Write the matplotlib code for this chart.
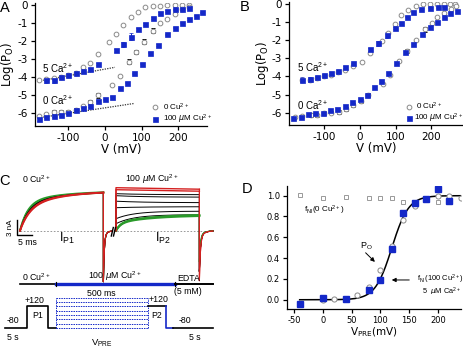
import numpy as np
import matplotlib
matplotlib.use("Agg")
import matplotlib.pyplot as plt

plt.rcParams['font.family'] = ['DejaVu Sans']
plt.rcParams['axes.unicode_minus'] = False
plt.rcParams['mathtext.default'] = 'regular'

BLUE = '#1428c8'
GRAY = '#8a8a8a'
SMALL = ['Liberation Sans', 'DejaVu Sans']

# ---------------- Panel A data (log Po vs V) ----------------
A_V_5CA_0CU = [-180, -160, -140, -120, -100, -80, -60, -40, -20, 10, 30, 50, 70, 90, 110, 130, 150, 170, 190, 210, 230]
A_L_5CA_0CU = [-4.16, -4.10, -4.05, -3.97, -3.90, -3.78, -3.45, -3.22, -2.71, -2.07, -1.63, -1.11, -0.65, -0.41, -0.13, -0.06, -0.03, -0.02, -0.01, 0.0, 0.0]
A_V_5CA_CU = [-160, -140, -120, -100, -80, -60, -40, -20, 30, 50, 70, 90, 110, 130, 150, 170, 190, 210, 230]
A_L_5CA_CU = [-4.18, -4.14, -3.97, -3.88, -3.79, -3.68, -3.56, -3.27, -2.50, -2.18, -1.75, -1.35, -1.05, -0.72, -0.43, -0.32, -0.24, -0.20, -0.17]
A_E_5CA_CU = [0.15, 0.18, 0.06, 0.06, 0.05, 0.05, 0.05, 0.06, 0.08, 0.12, 0.18, 0.07, 0.05, 0.05, 0.05, 0.04, 0.04, 0.04, 0.04]
A_V_0CA_0CU = [-180, -160, -140, -120, -100, -80, -60, -40, -20, 20, 40, 65, 85, 105, 130, 150, 170, 190, 210, 230]
A_L_0CA_0CU = [-6.15, -6.05, -5.94, -5.93, -5.92, -5.82, -5.62, -5.36, -4.99, -4.45, -3.93, -3.15, -2.59, -2.03, -1.42, -1.01, -0.77, -0.50, -0.24, -0.13]
A_E_0CA_0CU = [0.08, 0.08, 0.10, 0.10, 0.10, 0.10, 0.10, 0.12, 0.14, 0.03, 0.03, 0.14, 0.12, 0.12, 0.12, 0.03, 0.03, 0.03, 0.03, 0.03]
A_V_0CA_CU = [-180, -160, -140, -120, -100, -80, -60, -40, -20, 0, 20, 40, 60, 80, 100, 122, 145, 168, 192, 211, 230, 247, 264]
A_L_0CA_CU = [-6.30, -6.22, -6.15, -6.09, -6.00, -5.82, -5.69, -5.60, -5.30, -5.23, -5.08, -4.62, -4.30, -3.79, -3.25, -2.64, -2.22, -1.63, -1.26, -0.98, -0.78, -0.59, -0.41]
A_E_0CA_CU = [0.12] + [0.04] * 22
A_TREND_5CA_V = [-182, 27]
A_TREND_5CA_L = [-4.22, -3.45]
A_TREND_0CA_V = [-182, 80]
A_TREND_0CA_L = [-6.25, -5.45]

# ---------------- Panel B data ----------------
B_V_5CA_0CU = [-160, -140, -120, -100, -80, -60, -40, -20, 5, 28, 61, 80, 99, 115, 136, 156, 176, 196, 215, 234, 252, 266]
B_L_5CA_0CU = [-4.22, -4.18, -4.06, -3.98, -3.92, -3.75, -3.62, -3.43, -3.19, -2.72, -2.03, -1.60, -1.10, -0.61, -0.33, -0.11, -0.02, 0.0, 0.0, 0.0, 0.0, 0.0]
B_V_5CA_CU = [-160, -140, -120, -100, -80, -60, -40, -20, 29, 52, 75, 99, 115, 133, 150, 171, 196, 218, 236]
B_L_5CA_CU = [-4.17, -4.16, -4.01, -3.90, -3.82, -3.68, -3.50, -3.28, -2.50, -2.18, -1.71, -1.34, -1.03, -0.70, -0.42, -0.29, -0.20, -0.18, -0.15]
B_E_5CA_CU = [0.15, 0.15, 0.05, 0.05, 0.05, 0.05, 0.05, 0.05, 0.08, 0.12, 0.15, 0.06, 0.05, 0.04, 0.04, 0.04, 0.04, 0.04, 0.04]
B_V_0CA_0CU = [-180, -160, -137, -120, -100, -80, -58, -38, -18, 3, 24, 66, 85, 110, 133, 157, 182, 201, 217, 236, 254, 269]
B_L_0CA_0CU = [-6.25, -6.18, -6.13, -6.15, -6.04, -6.00, -5.95, -5.80, -5.58, -5.36, -5.03, -4.44, -3.90, -3.15, -2.58, -1.99, -1.40, -1.03, -0.74, -0.52, -0.29, -0.11]
B_E_0CA_0CU = [0.03, 0.03, 0.1, 0.1, 0.1, 0.1, 0.1, 0.1, 0.1, 0.1, 0.1, 0.03, 0.03, 0.03, 0.12, 0.03, 0.12, 0.03, 0.03, 0.03, 0.03, 0.03]
B_V_0CA_CU = [-185, -165, -144, -124, -103, -84, -63, -42, -21, 0, 20, 40, 60, 80, 102, 125, 150, 173, 196, 217, 236, 252, 271]
B_L_0CA_CU = [-6.32, -6.22, -6.09, -6.04, -6.04, -5.86, -5.78, -5.63, -5.41, -5.27, -5.03, -4.57, -4.24, -3.80, -3.28, -2.67, -2.21, -1.66, -1.25, -0.98, -0.74, -0.52, -0.37]

# ---------------- Panel D data ----------------
D_V_FNI0 = [-40, 0, 40, 80, 100, 120, 140, 160, 180, 200, 220]
D_Y_FNI0 = [1.01, 0.975, 0.99, 0.975, 0.975, 0.975, 0.935, 0.935, 0.975, 0.94, 0.975]
D_V_PO = [0, 20, 40, 60, 80, 100, 120, 140, 160, 180, 200, 220, 240]
D_Y_PO = [-0.005, 0.005, 0.01, 0.045, 0.125, 0.285, 0.52, 0.77, 0.905, 0.965, 0.995, 0.995, 0.98]
D_V_FNI100 = [-40, 0, 40, 80, 100, 120, 140, 160, 180, 200, 220]
D_Y_FNI100 = [-0.045, 0.02, 0.005, 0.09, 0.19, 0.49, 0.83, 0.925, 0.97, 1.06, 0.945]
D_FIT_VHALF = 120.0
D_FIT_K = 14.5
D_FIT_RANGE = [-40, 240]

# ---------------- Panel C (schematic traces) parameters ----------------
P1_TRACES = [  # color, fast amp (nA), fast tau (ms), slow amp, slow tau
    ('#d42020', 5.0, 3.4, 3.1, 15), ('#d42020', 5.2, 3.3, 2.9, 15),
    ('black', 5.4, 3.0, 2.6, 15), ('black', 5.5, 3.0, 2.5, 15),
    ('#2a9a2a', 5.8, 2.6, 2.2, 14), ('#2a9a2a', 5.6, 2.7, 2.3, 14)]
P2_TRACES = [  # color, start (nA), end (nA), tau (ms)
    ('black', 7.4, 7.2, 10), ('black', 7.0, 6.7, 10), ('black', 5.9, 5.6, 10),
    ('black', 4.6, 4.8, 10), ('black', 2.4, 3.9, 6), ('black', 1.4, 3.2, 6)]
P2_GREEN = [(1.6, 1.5, 1.7, 12), (1.5, 1.6, 1.6, 12)]  # fast amp, tau, slow amp, tau
P2_RED = [8.6, 8.2]
PULSE_MS = 27.8
TAIL_NA = [-9.3, -8.7]
VPRE_LINES_MV = [-80, -40, 0, 40, 80, 120, 160, 200]

fig = plt.figure(figsize=(4.64, 3.48), dpi=100)
W, H = 464.0, 348.0


def add_ax(x0, x1, ytop, ybot):
    return fig.add_axes([x0 / W, 1 - ybot / H, (x1 - x0) / W, (ybot - ytop) / H])


def style(ax, fs):
    for s in ['top', 'right']:
        ax.spines[s].set_visible(False)
    for s in ['left', 'bottom']:
        ax.spines[s].set_linewidth(0.9)
    ax.tick_params(direction='out', length=3, width=0.9, labelsize=fs, pad=2)
    ax.patch.set_alpha(0)


def logpo_panel(ax, xlim, ylim):
    ax.set_xlim(*xlim)
    ax.set_ylim(*ylim)
    style(ax, 7.5)
    ax.set_xticks([-100, 0, 100, 200])
    ax.set_yticks([0, -1, -2, -3, -4, -5, -6])
    ax.set_ylabel('Log(P$_O$)', fontsize=8.5, labelpad=1)
    ax.set_xlabel('V (mV)', fontsize=8.5, labelpad=0)


def stext(ax, x, y, s, fs, **kw):
    kw.setdefault('va', 'center')
    ax.text(x, y, s, fontsize=fs, family=SMALL, **kw)


circ_kw = dict(marker='o', ms=3.4, mfc='white', mec=GRAY, mew=0.7, ls='none')
sq_kw = dict(marker='s', ms=3.6, mfc=BLUE, mec=BLUE, mew=0.5, ls='none')
LEG_FS = 5.8
MU = '$\\mathit{\\mu}$'

# ---------- Panel A ----------
axA = add_ax(35, 207, 3.2, 126)
logpo_panel(axA, (-191, 278), (-6.70, 0.10))
axA.plot(A_TREND_5CA_V, A_TREND_5CA_L, ls=(0, (1, 1)), color='#333333', lw=0.9)
axA.plot(A_TREND_0CA_V, A_TREND_0CA_L, ls=(0, (1, 1)), color='#333333', lw=0.9)
axA.errorbar(A_V_5CA_0CU, A_L_5CA_0CU, **circ_kw)
axA.errorbar(A_V_0CA_0CU, A_L_0CA_0CU, yerr=A_E_0CA_0CU, ecolor='black', elinewidth=0.7, capsize=1.7, capthick=0.7, **circ_kw)
axA.errorbar(A_V_5CA_CU, A_L_5CA_CU, yerr=A_E_5CA_CU, ecolor=BLUE, elinewidth=0.7, capsize=1.5, **sq_kw)
axA.errorbar(A_V_0CA_CU, A_L_0CA_CU, yerr=A_E_0CA_CU, ecolor=BLUE, elinewidth=0.7, capsize=1.5, **sq_kw)
stext(axA, -173, -3.51, '5 Ca$^{2+}$', 7)
stext(axA, -173, -5.26, '0 Ca$^{2+}$', 7)
axA.plot([136], [-5.65], **circ_kw)
stext(axA, 157, -5.65, '0 Cu$^{2+}$', LEG_FS)
axA.plot([136], [-6.32], **sq_kw)
stext(axA, 157, -6.32, '100 ' + MU + 'M Cu$^{2+}$', LEG_FS)

# ---------- Panel B ----------
axB = add_ax(289.3, 463.5, 2.2, 125)
logpo_panel(axB, (-196.6, 289.6), (-6.68, 0.10))
axB.errorbar(B_V_5CA_0CU, B_L_5CA_0CU, **circ_kw)
axB.errorbar(B_V_0CA_0CU, B_L_0CA_0CU, yerr=B_E_0CA_0CU, ecolor='black', elinewidth=0.7, capsize=1.7, capthick=0.7, **circ_kw)
axB.errorbar(B_V_5CA_CU, B_L_5CA_CU, yerr=B_E_5CA_CU, ecolor=BLUE, elinewidth=0.7, capsize=1.5, **sq_kw)
axB.errorbar(B_V_0CA_CU, B_L_0CA_CU, **sq_kw)
stext(axB, -175, -3.46, '5 Ca$^{2+}$', 7)
stext(axB, -174, -5.58, '0 Ca$^{2+}$', 7)
axB.plot([137], [-5.67], **circ_kw)
stext(axB, 158, -5.67, '0 Cu$^{2+}$', LEG_FS)
axB.plot([137], [-6.31], **sq_kw)
stext(axB, 152, -6.31, '100 ' + MU + 'M Cu$^{2+}$', LEG_FS)

# ---------- Panel D ----------
axD = add_ax(287, 461, 185.7, 309)
axD.set_xlim(-62, 240)
axD.set_ylim(-0.089, 1.096)
style(axD, 6)
axD.set_xticks([-50, 0, 50, 100, 150, 200])
axD.set_yticks([0.0, 0.2, 0.4, 0.6, 0.8, 1.0])
axD.yaxis.set_major_formatter(matplotlib.ticker.FormatStrFormatter('%.1f'))
axD.set_xlabel('V$_{PRE}$(mV)', fontsize=7.5, labelpad=0)
vfit = np.linspace(D_FIT_RANGE[0], D_FIT_RANGE[1], 300)
axD.plot(vfit, 1.0 / (1.0 + np.exp(-(vfit - D_FIT_VHALF) / D_FIT_K)), color='black', lw=1.1, zorder=2)
axD.plot(D_V_FNI0, D_Y_FNI0, marker='s', ms=2.9, mfc='white', mec='#999999', mew=0.7, ls='none', zorder=3)
axD.plot(D_V_PO, D_Y_PO, marker='o', ms=3.7, mfc='white', mec=GRAY, mew=0.7, ls='none', zorder=3)
axD.plot(D_V_FNI100, D_Y_FNI100, marker='s', ms=4.3, mfc=BLUE, mec=BLUE, ls='none', zorder=4)
stext(axD, -33, 0.86, 'f$_{NI}$(0 Cu$^{2+}$)', 5.8)
stext(axD, 65, 0.51, 'P$_O$', 6.5)
axD.annotate('', xy=(94, 0.345), xytext=(71, 0.47),
             arrowprops=dict(arrowstyle='-|>', color='black', lw=0.7, mutation_scale=6))
stext(axD, 163, 0.195, 'f$_{NI}$(100 Cu$^{2+}$)', 5.4)
axD.annotate('', xy=(115, 0.19), xytext=(155, 0.19),
             arrowprops=dict(arrowstyle='-|>', color='black', lw=0.7, mutation_scale=6))
stext(axD, 172, 0.08, '5  ' + MU + 'M Ca$^{2+}$', 5.3)

# ---------- Panel C (pixel-space schematic) ----------
axC = fig.add_axes([0, 0, 232 / W, 174 / H])
axC.set_xlim(0, 232)
axC.set_ylim(348, 174)
axC.axis('off')
axC.patch.set_alpha(0)

BASE = 230.7
PX_MS = 3.0
PX_NA = 5.0
X_P1 = 20.0
X_P2 = 116.0

axC.plot([20, 213], [BASE, BASE], color='#888888', lw=0.6, ls=(0, (2, 2)))

t = np.linspace(0, PULSE_MS, 200)
tt = np.linspace(0, 3.0, 60)
tt2 = np.linspace(0, 4.5, 80)
p1_end = X_P1 + PULSE_MS * PX_MS
p2_end = X_P2 + PULSE_MS * PX_MS


def y_of(i):
    return BASE - np.asarray(i) * PX_NA


for col, a1, t1, a2, t2 in P1_TRACES[::-1]:
    i = a1 * (1 - np.exp(-t / t1)) + a2 * (1 - np.exp(-t / t2))
    lw = 1.3 if col != 'black' else 0.7
    axC.plot(X_P1 + t * PX_MS, y_of(i), color=col, lw=lw)
    tail = TAIL_NA[0] * np.exp(-tt / 0.3) - 0.9 * np.exp(-tt / 1.2)
    axC.plot(np.r_[p1_end, p1_end + tt * PX_MS], y_of(np.r_[i[-1], tail]), color=col, lw=0.8)

# P2 traces
for col, i0, i1, tau in P2_TRACES:
    i = i1 + (i0 - i1) * np.exp(-t / tau)
    axC.plot(np.r_[X_P2, X_P2 + t * PX_MS], y_of(np.r_[0, i]), color=col, lw=0.7)
    tail = TAIL_NA[1] * 0.8 * np.exp(-tt2 / 0.35) - 1.2 * np.exp(-tt2 / 1.5)
    axC.plot(np.r_[p2_end, p2_end + tt2 * PX_MS], y_of(np.r_[i[-1], tail]), color=col, lw=0.7)
for a1, t1, a2, t2 in P2_GREEN:
    i = a1 * (1 - np.exp(-t / t1)) + a2 * (1 - np.exp(-t / t2))
    axC.plot(X_P2 + t * PX_MS, y_of(i), color='#2a9a2a', lw=1.5)
    tail = TAIL_NA[1] * 0.6 * np.exp(-tt2 / 0.35) - 1.0 * np.exp(-tt2 / 1.5)
    axC.plot(np.r_[p2_end, p2_end + tt2 * PX_MS], y_of(np.r_[i[-1], tail]), color='#2a9a2a', lw=0.8)
for lev in P2_RED:
    i = np.full_like(t, lev) - 0.3 * t / PULSE_MS
    axC.plot(np.r_[X_P2, X_P2 + t * PX_MS], y_of(np.r_[0, i]), color='#d42020', lw=1.0)
    tail = TAIL_NA[1] * np.exp(-tt2 / 0.35) - 1.3 * np.exp(-tt2 / 1.5)
    axC.plot(np.r_[p2_end, p2_end + tt2 * PX_MS], y_of(np.r_[i[-1], tail]), color='#d42020', lw=0.8)

# break mark
axC.plot([111.3, 113.3], [236, 227.5], color='black', lw=1.0)
axC.plot([113.5, 115.5], [236, 227.5], color='black', lw=1.0)

# scale bar
axC.plot([17.3, 17.3, 17.3 + 5 * PX_MS], [BASE - 3 * PX_NA + 4, 234.7, 234.7], color='black', lw=1.0)
stext(axC, 10.5, 228, '3 nA', 5.8, rotation=90, ha='center')
stext(axC, 27, 242.5, '5 ms', 6.3, ha='center')
stext(axC, 66.7, 238, 'I$_{P1}$', 9, ha='center')
stext(axC, 163.3, 238, 'I$_{P2}$', 9, ha='center')
stext(axC, 36.7, 179.5, '0 Cu$^{2+}$', 6.3, ha='center')
stext(axC, 151.7, 179.5, '100 ' + MU + 'M Cu$^{2+}$', 6.3, ha='center')

# solution bar
SOL_Y = 284.0
axC.plot([20, 56], [SOL_Y, SOL_Y], color='black', lw=1.2)
axC.plot([56, 175], [SOL_Y, SOL_Y], color=BLUE, lw=2.4)
axC.plot([175, 213], [SOL_Y, SOL_Y], color='black', lw=1.4)
for xx in (56, 175):
    axC.plot([xx, xx], [SOL_Y - 1.8, SOL_Y + 1.8], color='black', lw=0.8)
stext(axC, 36.7, 282.8, '0 Cu$^{2+}$', 6.3, ha='center', va='bottom')
stext(axC, 115, 282.8, '100 ' + MU + 'M Cu$^{2+}$', 6.3, ha='center', va='bottom')
stext(axC, 188.3, 282.8, 'EDTA', 6.3, ha='center', va='bottom')
stext(axC, 188.3, 291.5, '(5 mM)', 6.3, ha='center')

# voltage protocol
Y_M80 = 328.0
PX_MV = 0.1085


def vy(mv):
    return Y_M80 - (np.asarray(mv, dtype=float) + 80) * PX_MV


y120 = vy(120)
axC.plot([5, 27.3, 27.3, 48.3, 48.3, 56], [Y_M80, Y_M80, y120, y120, Y_M80, Y_M80], color='black', lw=1.2)
for lev in VPRE_LINES_MV:
    axC.plot([56, 147.7], [vy(lev), vy(lev)], color=BLUE, lw=0.7, ls=(0, (1.5, 1)))
axC.plot([56, 56], [Y_M80, vy(200)], color=BLUE, lw=0.7, ls=(0, (1.5, 1)))
axC.plot([147.7, 147.7], [Y_M80, vy(200)], color=BLUE, lw=0.7, ls=(0, (1.5, 1)))
axC.plot([147.7, 165.7], [y120, y120], color='black', lw=1.2)
axC.plot([165.7, 165.7, 173.3], [y120, Y_M80, Y_M80], color=BLUE, lw=1.2)
axC.plot([173.3, 213], [Y_M80, Y_M80], color='black', lw=1.2)
stext(axC, 13.3, 320.7, '-80', 6.3, ha='center')
stext(axC, 35, 300.7, '+120', 6.3, ha='center')
stext(axC, 37.6, 316, 'P1', 6.3, ha='center')
stext(axC, 101.7, 293, '500 ms', 6.3, ha='center')
stext(axC, 158.3, 299.5, '+120', 6.3, ha='center')
stext(axC, 156.7, 316, 'P2', 6.3, ha='center')
stext(axC, 185, 320.7, '-80', 6.3, ha='center')
stext(axC, 13.3, 337.5, '5 s', 6.3, ha='center')
stext(axC, 195, 337.5, '5 s', 6.3, ha='center')
stext(axC, 101.7, 343.5, 'V$_{PRE}$', 6.8, ha='center')

# panel letters
for (px, py, letter) in [(5, 8, 'A'), (245, 7, 'B'), (5, 181, 'C'), (247, 189, 'D')]:
    fig.text(px / W, 1 - py / H, letter, fontsize=10.5, va='center', ha='center', family=SMALL)

fig.savefig('out.png', dpi=100)
